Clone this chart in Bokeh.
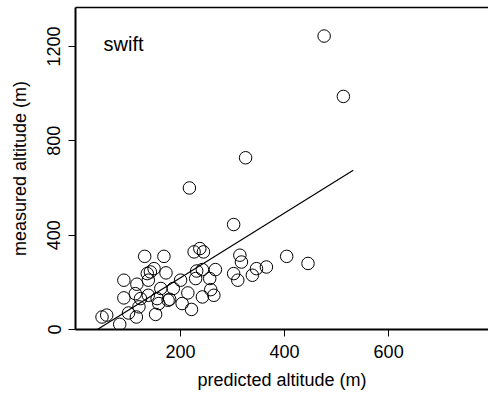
from bokeh.plotting import figure
from bokeh.models import Range1d, LinearAxis, FixedTicker, Label
from bokeh.embed import file_html
from bokeh.resources import INLINE

predicted = [49, 58, 83, 91, 91, 100, 115, 116, 113, 123, 120, 131, 138, 142, 138, 149,
             152, 155, 158, 162, 168, 172, 176, 179, 186, 200, 203, 214, 221, 226, 237,
             244, 229, 231, 242, 242, 256, 258, 264, 267, 302, 302, 310, 314, 317, 338,
             346, 365, 404, 445, 325, 217, 476, 513, 136]
measured = [53, 61, 22, 209, 134, 70, 53, 192, 152, 131, 96, 310, 209, 244, 145, 258,
            64, 131, 110, 174, 310, 240, 124, 128, 174, 209, 110, 155, 85, 329, 343,
            329, 216, 248, 254, 138, 216, 169, 145, 254, 445, 237, 209, 315, 286, 230,
            258, 265, 310, 280, 728, 600, 1244, 988, 237]

fit_intercept = -54.6
fit_slope = 1.372
fit_x = [40, 532]
fit_y = [fit_intercept + fit_slope * x for x in fit_x]

x_ticks = [200, 400, 600]
y_ticks = [0, 400, 800, 1200]
panel_label = "swift"

FONT = "Liberation Sans"

p = figure(width=488, height=394, output_backend="svg", toolbar_location=None,
           x_range=Range1d(-2, 792), y_range=Range1d(0, 1365),
           min_border_left=75, min_border_right=0, min_border_top=7,
           min_border_bottom=65)
p.grid.visible = False
p.outline_line_color = None
p.background_fill_color = "white"
p.border_fill_color = "white"

p.scatter(predicted, measured, marker="circle", size=12.5, fill_color=None,
          line_color="black", line_width=1)
p.line(fit_x, fit_y, line_color="black", line_width=1.2)

for ax in (p.xaxis[0], p.yaxis[0]):
    ax.axis_line_width = 2
    ax.axis_line_color = "black"
    ax.major_tick_in = 0
    ax.major_tick_out = 7
    ax.major_tick_line_width = 1
    ax.minor_tick_line_color = None
    ax.major_label_text_font = FONT
    ax.major_label_text_font_size = "18px"
    ax.major_label_text_color = "black"
    ax.axis_label_text_font = FONT
    ax.axis_label_text_font_size = "18px"
    ax.axis_label_text_font_style = "normal"
    ax.axis_label_text_color = "black"

p.xaxis.ticker = FixedTicker(ticks=x_ticks)
p.yaxis.ticker = FixedTicker(ticks=y_ticks)
p.xaxis.axis_label = "predicted altitude (m)"
p.yaxis.axis_label = "measured altitude (m)"
p.xaxis.major_label_standoff = 8
p.yaxis.major_label_standoff = 8
p.yaxis.major_label_orientation = "vertical"
p.xaxis.axis_label_standoff = 9
p.yaxis.axis_label_standoff = 15

top = LinearAxis(ticker=FixedTicker(ticks=[]), axis_line_width=1.5,
                 major_tick_in=0, major_tick_out=0, minor_tick_in=0,
                 minor_tick_out=0, major_label_text_font_size="0px")
p.add_layout(top, "above")

p.add_layout(Label(x=52, y=1212, text=panel_label, text_font=FONT,
                   text_font_size="20px", text_color="black",
                   text_baseline="alphabetic", text_align="left"))

open("out.html", "w").write(file_html(p, INLINE))
